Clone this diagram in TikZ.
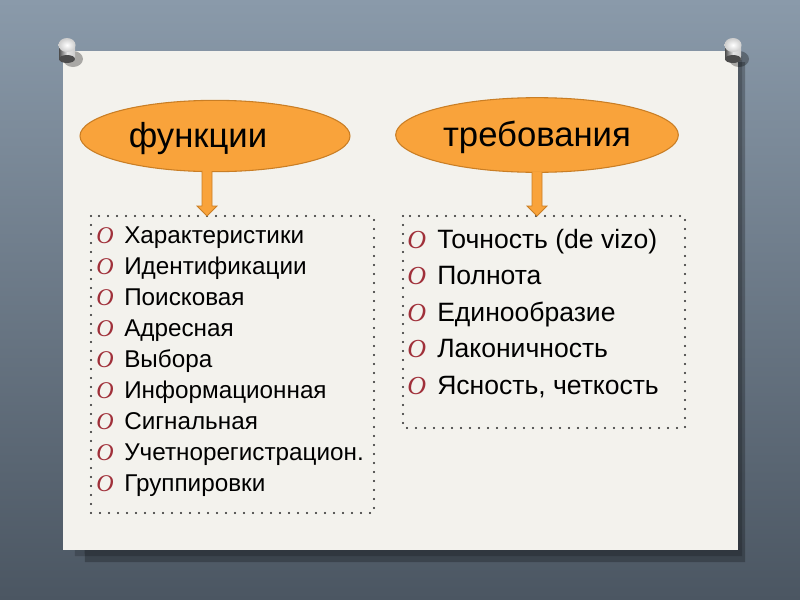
\documentclass[tikz,border=0pt]{standalone}
\usepackage{fontspec}
\setmainfont{Liberation Sans}
\newfontfamily\bulfont{Liberation Serif}
\usetikzlibrary{shapes.geometric,calc}
\definecolor{bgtop}{HTML}{8A9AAA}
\definecolor{bgbot}{HTML}{4B5662}
\definecolor{paper}{HTML}{F3F2ED}
\definecolor{orfill}{HTML}{F9A33B}
\definecolor{ordraw}{HTML}{C97E25}
\definecolor{bulred}{HTML}{A0303A}
\tikzset{
  oval/.style={ellipse, fill=orfill, draw=ordraw, line width=0.8pt, inner sep=0pt},
  ovaltext/.style={inner sep=0pt, font=\fontsize{26}{30}\selectfont},
  dotbox/.style={draw=black!85, line width=1.8pt, line cap=round, dash pattern=on 0pt off 6.75pt},
  fatarrow/.style={fill=orfill, draw=ordraw, line width=0.6pt},
  itemL/.style={anchor=base west, inner sep=0pt, font=\fontsize{18.2}{20}\selectfont},
  itemR/.style={anchor=base west, inner sep=0pt, font=\fontsize{19.9}{22}\selectfont},
  bulL/.style={anchor=base west, inner sep=0pt, text=bulred, font=\bulfont\itshape\fontsize{18}{20}\selectfont},
  bulR/.style={anchor=base west, inner sep=0pt, text=bulred, font=\bulfont\itshape\fontsize{19.5}{22}\selectfont},
}
\begin{document}
\begin{tikzpicture}[x=0.75pt,y=-0.75pt]
\useasboundingbox (0,0) rectangle (800,600);
% background
\shade[top color=bgtop, bottom color=bgbot] (0,0) rectangle (800,600);
% paper shadow
\fill[black, opacity=0.25] (70,62) -- (745,62) -- (745,562) -- (85,562) -- cycle;
\fill[black, opacity=0.18] (66,56) -- (742,56) -- (742,556) -- (75,556) -- cycle;
% paper
\fill[paper] (63,51) rectangle (738,550);
% pins
\foreach \px/\py in {67/45, 733/45}{
  \fill[black, opacity=0.3] (\px+6,\py+14) ellipse [x radius=10, y radius=8];
  \shade[left color=gray!60!black, right color=gray!40, middle color=white!80!gray] (\px-8,\py) rectangle (\px+8,\py+14);
  \fill[gray!60!black] (\px,\py+14) ellipse [x radius=8, y radius=4];
  \shade[inner color=white, outer color=gray!40] (\px,\py) ellipse [x radius=8.5, y radius=7];
}
% ovals
\node[oval, minimum width=202.5pt, minimum height=53.5pt] (f) at (215,136) {};
\node[ovaltext, anchor=base] (ft) at (198,147) {функции};
\node[oval, minimum width=212pt, minimum height=56pt] (t) at (537,135) {};
\node[ovaltext, anchor=base] (tt) at (537,146) {требования};
% boxes
\draw[dotbox] (91,216) rectangle (374,513);
\coordinate (fb) at (207,216);
\draw[dotbox] (403,216) rectangle (685,428);
\coordinate (tb) at (537,216);
% arrows
\foreach \o/\b in {f/fb, t/tb}{
  \draw[fatarrow] ($(\o.south -| \b)+(-5,-1)$) -- ($(\b)+(-5,-10)$) -- ($(\b)+(-10,-10)$) -- (\b) -- ($(\b)+(10,-10)$) -- ($(\b)+(5,-10)$) -- ($(\o.south -| \b)+(5,-1)$);
}
% left list
\foreach \t [count=\i from 0] in {Характеристики, Идентификации, Поисковая, Адресная, Выбора, Информационная, Сигнальная, Учетнорегистрацион., Группировки}{
  \node[bulL] (lb\i) at (96,243+31.1*\i) {O};
  \node[itemL] (li\i) at (124,243+31.1*\i) {\t};
}
% right list
\foreach \t [count=\i from 0] in {Точность (de vizo), Полнота, Единообразие, Лаконичность, {Ясность, четкость}}{
  \node[bulR] (rb\i) at (407,248+36.5*\i) {O};
  \node[itemR] (ri\i) at (437,248+36.5*\i) {\t};
}
\end{tikzpicture}
\end{document}
